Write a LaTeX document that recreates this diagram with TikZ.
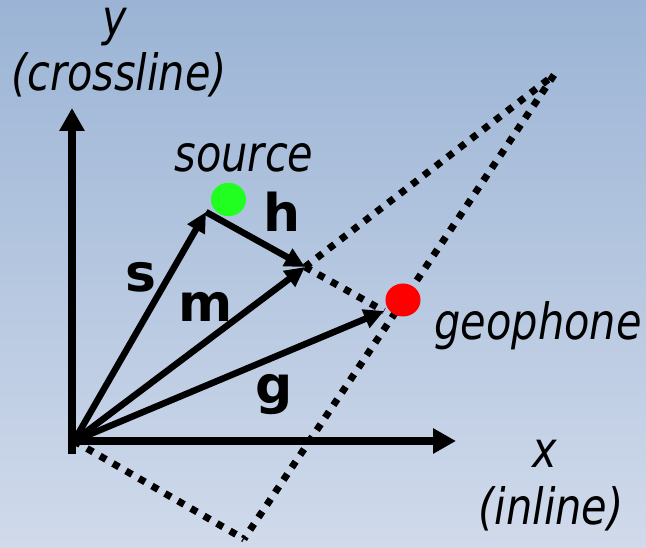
\documentclass[tikz,border=0pt]{standalone}
\usepackage{fontspec}
\setmainfont{DejaVu Sans}
\newfontfamily\itfont{DejaVu Sans}[FakeStretch=0.83]
\usetikzlibrary{arrows.meta}
\definecolor{bgtop}{RGB}{155,180,213}
\definecolor{bgbot}{RGB}{208,218,235}
\definecolor{srcgreen}{RGB}{32,255,32}
\definecolor{geored}{RGB}{255,0,0}
\tikzset{
  axis/.style={line width=7.5pt,-{Triangle[length=23pt,width=24pt]}},
  vec/.style={line width=6.5pt,-{Triangle[length=20pt,width=19pt]}},
  dots/.style={line width=7pt,dash pattern=on 7pt off 8pt},
  itlabel/.style={anchor=base,inner sep=0pt,font=\itfont\itshape\fontsize{50}{53}\selectfont},
  bflabel/.style={anchor=base,inner sep=0pt,font=\bfseries\fontsize{52}{55}\selectfont},
}
\begin{document}
\begin{tikzpicture}[x=1pt,y=-1pt]
\shade[top color=bgtop,bottom color=bgbot] (0,0) rectangle (646,548);
\useasboundingbox (0,0) rectangle (646,548);
% points
\coordinate (O) at (74,441);
\coordinate (Ybot) at (72,454);
\coordinate (Ytop) at (72,108);
\coordinate (Xleft) at (68,441);
\coordinate (Xtip) at (456,441);
\coordinate (S) at (206,212);
\coordinate (M) at (305,267);
\coordinate (G) at (384,311);
\coordinate (T) at (554,75);
\coordinate (B) at (244,539);
% dotted construction
\draw[dots] (M) -- (T);
\draw[dots] (T) -- (B);
\draw[dots] (O) -- (B);
\draw[dots] (M) -- (G);
% axes
\draw[axis] (Ybot) -- (Ytop);
\draw[axis] (Xleft) -- (Xtip);
% vectors
\draw[vec] (O) -- (S);
\draw[vec] (S) -- (M);
\draw[vec] (O) -- (M);
\draw[vec] (O) -- (G);
% dots
\fill[srcgreen] (228.5,199.5) ellipse [x radius=17.5pt, y radius=16.7pt];
\fill[geored] (403,300) ellipse [x radius=17.5pt, y radius=16.5pt];
% labels
\node[itlabel,text height=27pt] (ylab) at (115,36) {y};
\node[itlabel] (ycross) at (119,91) {(crossline)};
\node[itlabel] (srclab) at (244,172) {source};
\node[itlabel] (geolab) at (538,340) {geophone};
\node[itlabel] (xlab) at (545,467) {x};
\node[itlabel] (xin) at (551,524) {(inline)};
\node[bflabel] (hlab) at (282,232) {h};
\node[bflabel] (slab) at (141,292) {s};
\node[bflabel] (mlab) at (206,322) {m};
\node[bflabel] (glab) at (274,403) {g};
\end{tikzpicture}
\end{document}
